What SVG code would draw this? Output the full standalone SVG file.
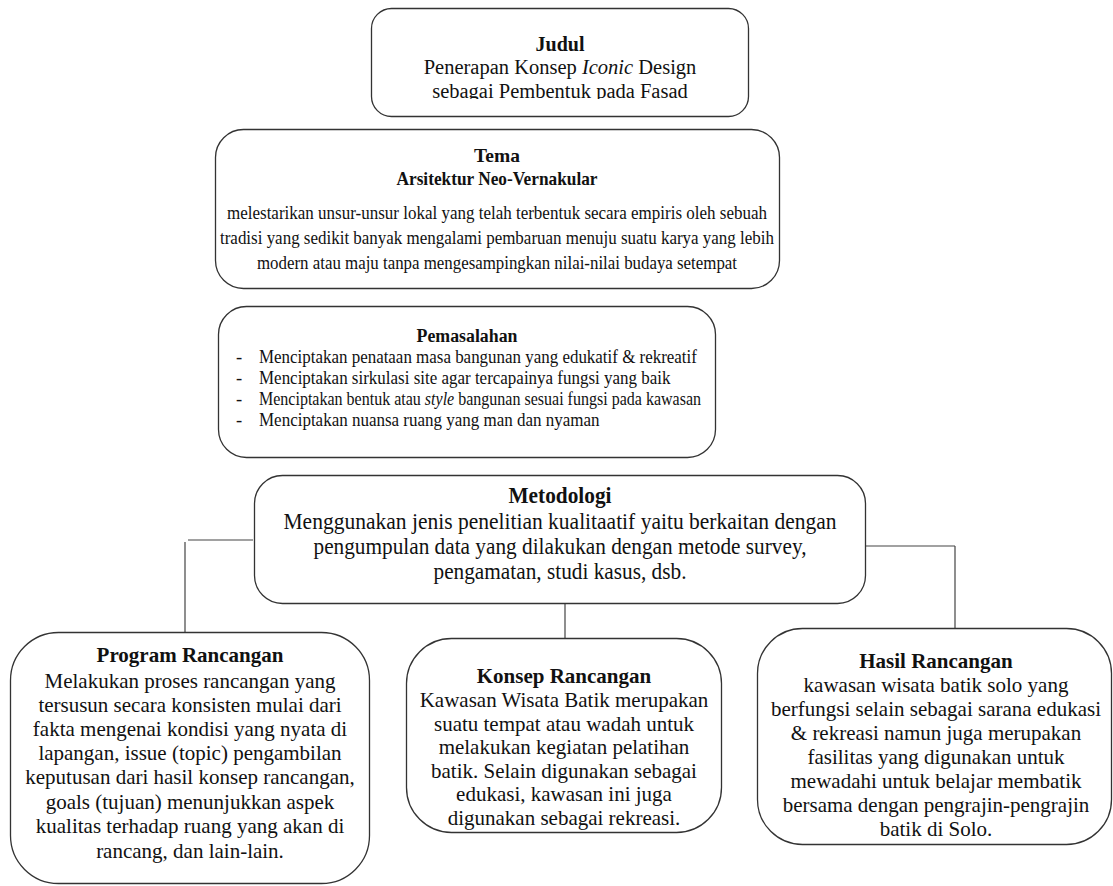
<svg xmlns="http://www.w3.org/2000/svg" width="1113" height="886" viewBox="0 0 1113 886">
<style>
.box{fill:#fff;stroke:#333;stroke-width:1.3}
.t{font-family:"Liberation Serif","Times New Roman",serif;fill:#111;text-anchor:middle}
.b{font-weight:bold}
.l{text-anchor:start}
.conn{stroke:#444;stroke-width:1.2;fill:none}
</style>
<defs>
<clipPath id="clipJ"><rect x="372" y="8" width="377" height="91"/></clipPath>
</defs>
<rect width="1113" height="886" fill="#fff"/>
<g id="connectors">
<line class="conn" x1="188" y1="540" x2="253" y2="540"/>
<line class="conn" x1="185" y1="542" x2="185" y2="632"/>
<line class="conn" x1="866" y1="546" x2="955" y2="546"/>
<line class="conn" x1="955" y1="546" x2="955" y2="629"/>
<line class="conn" x1="565" y1="604" x2="565" y2="639"/>
</g>
<g id="judul">
<rect class="box" x="371.5" y="8.5" width="377" height="108" rx="20"/>
<g clip-path="url(#clipJ)">
<text class="t b" x="560" y="51" font-size="20">Judul</text>
<text class="t" x="560" y="74" font-size="20.5">Penerapan Konsep <tspan font-style="italic">Iconic</tspan> Design</text>
<text class="t" x="560" y="98" font-size="20.5">sebagai Pembentuk pada Fasad</text>
</g>
</g>
<g id="tema">
<rect class="box" x="215.5" y="129.5" width="564" height="159" rx="28"/>
<text class="t b" x="497" y="162" font-size="19.5">Tema</text>
<text class="t b" x="497" y="185" font-size="19.5" textLength="201" lengthAdjust="spacingAndGlyphs">Arsitektur Neo-Vernakular</text>
<text class="t" x="497" y="219" font-size="19.5" textLength="540" lengthAdjust="spacingAndGlyphs">melestarikan unsur-unsur lokal yang telah terbentuk secara empiris oleh sebuah</text>
<text class="t" x="497" y="244" font-size="19.5" textLength="554" lengthAdjust="spacingAndGlyphs">tradisi yang sedikit banyak mengalami pembaruan menuju suatu karya yang lebih</text>
<text class="t" x="497" y="269" font-size="19.5" textLength="480" lengthAdjust="spacingAndGlyphs">modern atau maju tanpa mengesampingkan nilai-nilai budaya setempat</text>
</g>
<g id="pemasalahan">
<rect class="box" x="218.5" y="306.5" width="497" height="151" rx="28"/>
<text class="t b" x="467" y="342" font-size="18.5" textLength="101" lengthAdjust="spacingAndGlyphs">Pemasalahan</text>
<g font-size="18.5">
<text class="t l" x="236" y="363">-</text>
<text class="t l" transform="translate(259,363) scale(0.916,1)" x="0" y="0">Menciptakan penataan masa bangunan yang edukatif &amp; rekreatif</text>
<text class="t l" x="236" y="384">-</text>
<text class="t l" transform="translate(259,384) scale(0.918,1)" x="0" y="0">Menciptakan sirkulasi site agar tercapainya fungsi yang baik</text>
<text class="t l" x="236" y="405">-</text>
<text class="t l" transform="translate(259,405) scale(0.866,1)" x="0" y="0">Menciptakan bentuk atau <tspan font-style="italic">style</tspan> bangunan sesuai fungsi pada kawasan</text>
<text class="t l" x="236" y="426">-</text>
<text class="t l" transform="translate(259,426) scale(0.919,1)" x="0" y="0">Menciptakan nuansa ruang yang man dan nyaman</text>
</g>
</g>
<g id="metodologi">
<rect class="box" x="254.5" y="475.5" width="611" height="128" rx="28"/>
<text class="t b" x="560" y="503" font-size="22.5" textLength="103" lengthAdjust="spacingAndGlyphs">Metodologi</text>
<text class="t" x="560" y="529" font-size="23.5" textLength="553" lengthAdjust="spacingAndGlyphs">Menggunakan jenis penelitian kualitaatif  yaitu berkaitan dengan</text>
<text class="t" x="560" y="554" font-size="23.5" textLength="493" lengthAdjust="spacingAndGlyphs">pengumpulan data yang dilakukan dengan metode survey,</text>
<text class="t" x="560" y="579" font-size="23.5" textLength="253" lengthAdjust="spacingAndGlyphs">pengamatan, studi kasus, dsb.</text>
</g>
<g id="program">
<rect class="box" x="10.5" y="632.5" width="359" height="251" rx="48"/>
<g font-size="21">
<text class="t b" x="190" y="662">Program Rancangan</text>
<text class="t" x="190" y="688">Melakukan proses rancangan yang</text>
<text class="t" x="190" y="712">tersusun secara konsisten mulai dari</text>
<text class="t" x="190" y="736">fakta mengenai kondisi yang nyata di</text>
<text class="t" x="190" y="760">lapangan, issue (topic) pengambilan</text>
<text class="t" x="190" y="784">keputusan dari hasil konsep rancangan,</text>
<text class="t" x="190" y="809">goals (tujuan) menunjukkan aspek</text>
<text class="t" x="190" y="833">kualitas terhadap ruang yang akan di</text>
<text class="t" x="190" y="858">rancang, dan lain-lain.</text>
</g>
</g>
<g id="konsep">
<rect class="box" x="406.5" y="638.5" width="315" height="194" rx="45"/>
<g font-size="21">
<text class="t b" x="564" y="683">Konsep Rancangan</text>
<text class="t" x="564" y="707" fill="#333">Kawasan Wisata Batik merupakan</text>
<text class="t" x="564" y="730.5" fill="#333">suatu tempat atau wadah untuk</text>
<text class="t" x="564" y="754" fill="#333">melakukan kegiatan pelatihan</text>
<text class="t" x="564" y="777.5" fill="#333">batik. Selain digunakan sebagai</text>
<text class="t" x="564" y="801" fill="#333">edukasi, kawasan ini juga</text>
<text class="t" x="564" y="824.5" fill="#333">digunakan sebagai rekreasi.</text>
</g>
</g>
<g id="hasil">
<rect class="box" x="757.5" y="628.5" width="354" height="216" rx="45"/>
<g font-size="21">
<text class="t b" x="936" y="668">Hasil Rancangan</text>
<text class="t" x="936" y="692">kawasan wisata batik solo yang</text>
<text class="t" x="936" y="716">berfungsi selain sebagai sarana edukasi</text>
<text class="t" x="936" y="740">&amp; rekreasi namun juga merupakan</text>
<text class="t" x="936" y="764">fasilitas yang digunakan untuk</text>
<text class="t" x="936" y="788">mewadahi untuk belajar membatik</text>
<text class="t" x="936" y="812">bersama dengan pengrajin-pengrajin</text>
<text class="t" x="936" y="836">batik di Solo.</text>
</g>
</g>
</svg>
